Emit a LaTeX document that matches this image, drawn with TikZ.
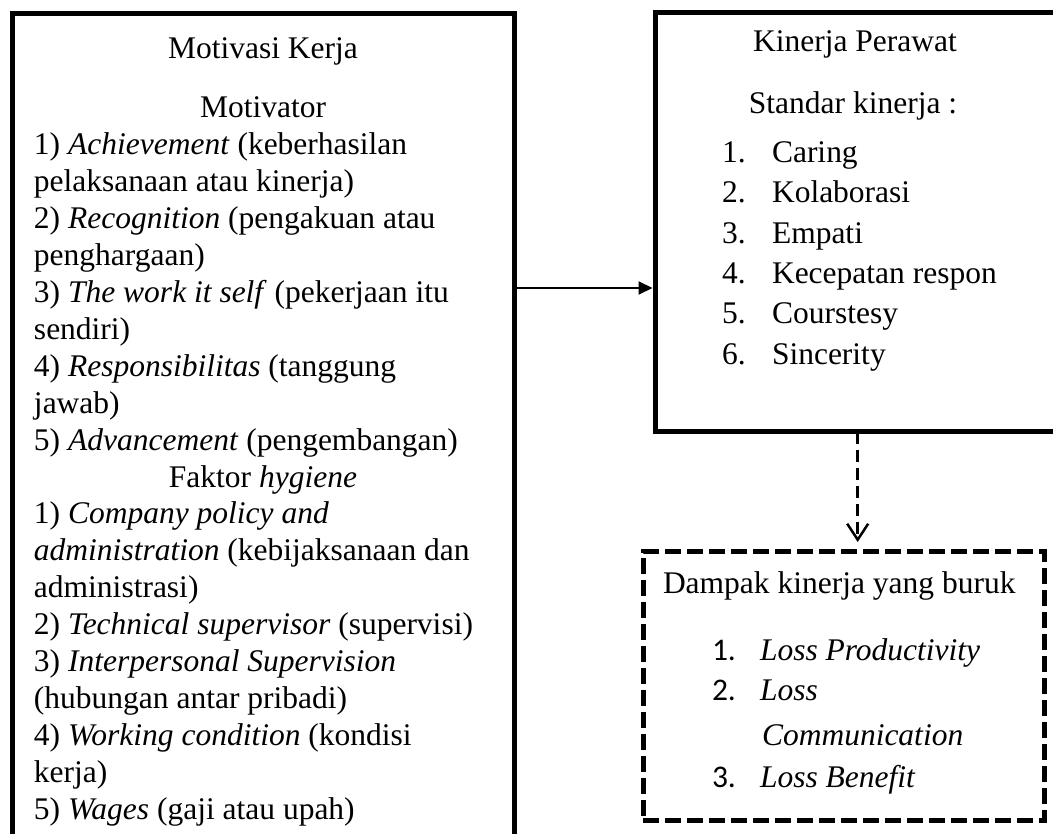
\documentclass[tikz,border=0pt]{standalone}
\usepackage{fontspec}
\setmainfont{Liberation Serif}
\newfontfamily\calib{Carlito}
\usetikzlibrary{arrows.meta}
\newcommand\fsz{\fontsize{31.5}{37}\selectfont}
\tikzset{
  box/.style={draw, line width=5pt, inner sep=0pt, outer sep=0pt},
  dbox/.style={draw, line width=5pt, dash pattern=on 16pt off 6pt, inner sep=0pt, outer sep=0pt},
  lt/.style={anchor=base west, inner sep=0pt, outer sep=0pt},
  ct/.style={anchor=base, inner sep=0pt, outer sep=0pt},
  solidarrow/.style={line width=2pt, -{Triangle[length=14pt,width=13pt]}},
  dasharrow/.style={line width=2.5pt, dash pattern=on 12pt off 6pt, -{Straight Barb[length=16pt,width=21pt]}}
}
\begin{document}
\begin{tikzpicture}[x=1pt,y=-1pt,font=\fsz]
\clip (0,0) rectangle (1053,834);
\fill[white] (0,0) rectangle (1053,834);
% boxes
\node[box, minimum width=502pt, minimum height=900pt, anchor=north west] (motiv) at (12,14) {};
\node[box, minimum width=450pt, minimum height=419pt, anchor=north west] (kin) at (655,12.5) {};
\node[dbox, minimum width=401.5pt, minimum height=268.5pt, anchor=north west] (dampak) at (643,551.5) {};
% left box text
\node[ct] (m0) at (263,59) {Motivasi Kerja};
\node[ct] (m1) at (263,118) {Motivator};
\node[lt] (a1) at (34,154.9) {1) \textit{Achievement} (keberhasilan};
\node[lt] (a2) at (34,191.8) {pelaksanaan atau kinerja)};
\node[lt] (a3) at (34,228.7) {2) \textit{Recognition} (pengakuan atau};
\node[lt] (a4) at (34,265.6) {penghargaan)};
\node[lt] (a5) at (34,302.5) {3) \textit{The work it self} (pekerjaan itu};
\node[lt] (a6) at (34,339.4) {sendiri)};
\node[lt] (a7) at (34,376.3) {4) \textit{Responsibilitas} (tanggung};
\node[lt] (a8) at (34,413.2) {jawab)};
\node[lt] (a9) at (34,450.1) {5) \textit{Advancement} (pengembangan)};
\node[ct] (h0) at (263,487) {Faktor \textit{hygiene}};
\node[lt] (b1) at (34,523.9) {1) \textit{Company policy and}};
\node[lt] (b2) at (34,560.8) {\textit{administration} (kebijaksanaan dan};
\node[lt] (b3) at (34,597.7) {administrasi)};
\node[lt] (b4) at (34,634.6) {2) \textit{Technical supervisor} (supervisi)};
\node[lt] (b5) at (34,671.5) {3) \textit{Interpersonal Supervision}};
\node[lt] (b6) at (34,708.4) {(hubungan antar pribadi)};
\node[lt] (b7) at (34,745.3) {4) \textit{Working condition} (kondisi};
\node[lt] (b8) at (34,782.2) {kerja)};
\node[lt] (b9) at (34,819.1) {5) \textit{Wages} (gaji atau upah)};
% right box text
\node[ct] (k0) at (855,52) {Kinerja Perawat};
\node[ct] (k1) at (853,114) {Standar kinerja :};
\node[lt] (n1) at (722,163) {1.};
\node[lt] (s1) at (772,163) {Caring};
\node[lt] (n2) at (722,203) {2.};
\node[lt] (s2) at (772,203) {Kolaborasi};
\node[lt] (n3) at (722,244) {3.};
\node[lt] (s3) at (772,244) {Empati};
\node[lt] (n4) at (722,284) {4.};
\node[lt] (s4) at (772,284) {Kecepatan respon};
\node[lt] (n5) at (722,324) {5.};
\node[lt] (s5) at (772,324) {Courstesy};
\node[lt] (n6) at (722,365) {6.};
\node[lt] (s6) at (772,365) {Sincerity};
% dashed box text
\node[lt] (d0) at (663,593) {Dampak kinerja yang buruk};
\node[lt, font=\fsz\calib] (e1) at (712,660) {1.};
\node[lt] (f1) at (760,660) {\textit{Loss Productivity}};
\node[lt, font=\fsz\calib] (e2) at (712,700) {2.};
\node[lt] (f2) at (760,700) {\textit{Loss}};
\node[lt] (f3) at (762,745) {\textit{Communication}};
\node[lt, font=\fsz\calib] (e3) at (712,787) {3.};
\node[lt] (f4) at (760,787) {\textit{Loss Benefit}};
% connectors
\coordinate (ay) at (0,288);
\coordinate (dx) at (857.7,0);
\draw[solidarrow, shorten >=2.5pt] (motiv.east |- ay) -- (kin.west |- ay);
\draw[dasharrow, shorten >=9.5pt] (kin.south -| dx) -- (dampak.north -| dx);
\end{tikzpicture}
\end{document}
